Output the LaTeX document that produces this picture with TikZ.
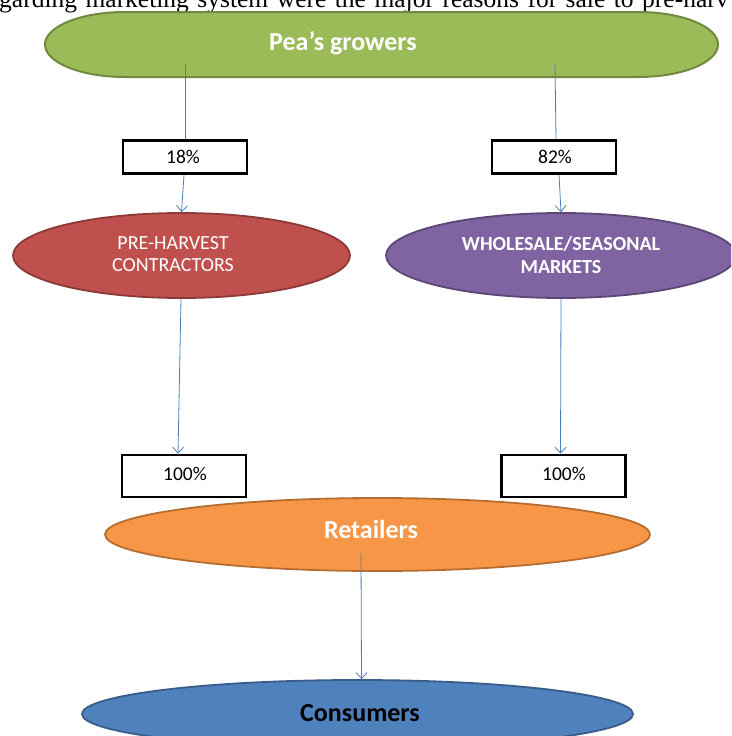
\documentclass[tikz,border=0pt]{standalone}
\usepackage{fontspec}
\setmainfont{Carlito}
\newfontfamily\bodyserif{Liberation Serif}
\usetikzlibrary{shapes.geometric,arrows.meta}
\definecolor{grfill}{HTML}{9BBB59}
\definecolor{grline}{HTML}{71893F}
\definecolor{rdfill}{HTML}{C0504D}
\definecolor{rdline}{HTML}{8C3A38}
\definecolor{pufill}{HTML}{8064A2}
\definecolor{puline}{HTML}{5C4776}
\definecolor{orfill}{HTML}{F79646}
\definecolor{orline}{HTML}{B66D31}
\definecolor{blfill}{HTML}{4F81BD}
\definecolor{blline}{HTML}{385D8A}
\definecolor{linkblue}{HTML}{4A7EBB}
\begin{document}
\begin{tikzpicture}[x=1pt,y=1pt,
  link/.style={draw=linkblue, line width=0.8pt},
  flow/.style={link, -{Straight Barb[length=6pt,width=11pt,line width=0.8pt]}},
  pct/.style={draw=black, line width=2.6pt, fill=white, minimum width=124pt, inner sep=0pt},
  pcttxt/.style={anchor=base, inner sep=0pt, font=\fontsize{19.5}{22}\selectfont},
  oval/.style={ellipse, line width=1.8pt, inner sep=0pt},
  lbl/.style={anchor=base, text=white, align=center, inner sep=0pt},
  big/.style={font=\bfseries\fontsize{26}{28}\selectfont}]
\useasboundingbox (0,0) rectangle (731,-736);
\begin{scope}
\clip (0,0) rectangle (731,-736);
% header text of the page (cut at the top edge, justified spacing)
\node[anchor=base west, inner sep=0pt, font=\bodyserif\fontsize{25.5}{28}\selectfont] (hdr) at (-1,-8)
  {\spaceskip=8.5pt garding marketing system were the major reasons for sale to pre-harv};
% green top shape
\node[minimum width=673pt, minimum height=65pt, inner sep=0pt] (grow) at (381.5,-44.5) {};
\draw[fill=grfill, draw=grline, line width=2pt]
  (125,-12) -- (638,-12) arc[start angle=90, end angle=-90, x radius=80pt, y radius=32.5pt]
  -- (125,-77) arc[start angle=270, end angle=90, x radius=80pt, y radius=32.5pt] -- cycle;
\node[lbl, big] (growtxt) at (343,-50) {Pea’s growers};
% percentage boxes
\node[pct, minimum height=33pt] (b18) at (185,-157) {};
\node[pcttxt] (t18) at (183,-163) {18\%};
\node[pct, minimum height=33pt] (b82) at (554,-157) {};
\node[pcttxt] (t82) at (555,-163) {82\%};
% middle ellipses
\node[oval, fill=rdfill, draw=rdline, minimum width=337pt, minimum height=85pt] (pre) at (181.5,-255.5) {};
\node[lbl, font=\fontsize{20}{22}\selectfont] (pretxt) at (173,-271) {PRE-HARVEST\\CONTRACTORS};
\node[oval, fill=pufill, draw=puline, minimum width=350pt, minimum height=85pt] (whole) at (561,-255.5) {};
\node[lbl, font=\bfseries\fontsize{20}{22.5}\selectfont] (wholetxt) at (561,-273) {WHOLESALE/SEASONAL\\MARKETS};
% lower boxes
\node[pct, minimum height=42pt] (b100l) at (184,-476) {};
\node[pcttxt] (t100l) at (185,-480) {100\%};
\node[pct, minimum height=42pt] (b100r) at (563.5,-476) {};
\node[pcttxt] (t100r) at (564,-480) {100\%};
% retailers and consumers
\node[oval, fill=orfill, draw=orline, minimum width=545pt, minimum height=73pt] (ret) at (377.5,-534.5) {};
\node[lbl, big] (rettxt) at (371,-538) {Retailers};
\node[oval, fill=blfill, draw=blline, minimum width=551pt, minimum height=68pt] (cons) at (357.5,-714) {};
\node[anchor=base, inner sep=0pt, big] (constxt) at (360,-721) {Consumers};
% connectors
\coordinate (g1) at (185,-64);
\coordinate (g2) at (555,-64);
\coordinate (r1) at (361,-553);
\draw[link] (g1) -- (b18.north);
\draw[link] (g2) -- ([xshift=2pt]b82.north);
\draw[flow] ([xshift=-1pt]b18.south) -- (pre.north);
\draw[flow] ([xshift=5pt]b82.south) -- (whole.north);
\draw[flow] ([xshift=-0.5pt]pre.south) -- ([xshift=-6pt]b100l.north);
\draw[flow] (whole.south) -- ([xshift=-3pt]b100r.north);
\draw[flow] (r1) -- ([xshift=4pt]cons.north);
\end{scope}
\end{tikzpicture}
\end{document}
